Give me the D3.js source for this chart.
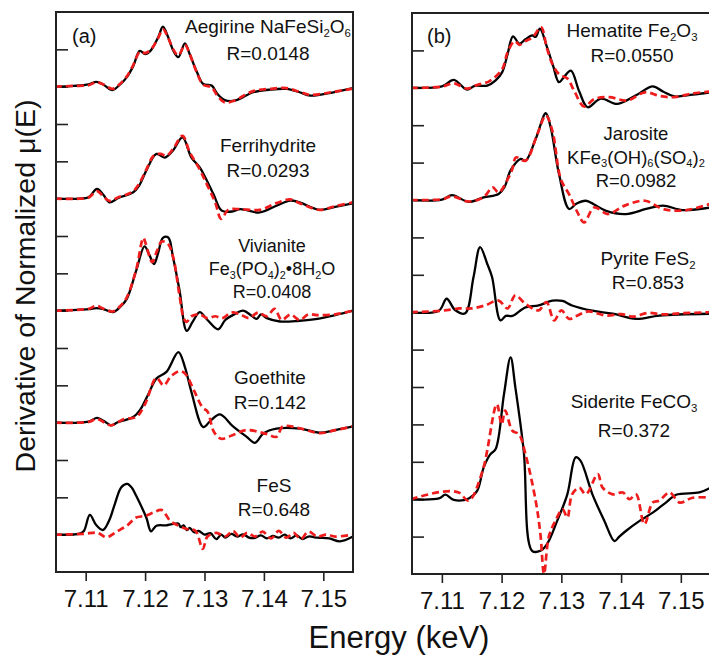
<!DOCTYPE html>
<html><head><meta charset="utf-8">
<script src="https://cdn.jsdelivr.net/npm/d3@7"></script>
<style>body{margin:0;background:#fff}svg{display:block}text{font-family:"Liberation Sans",Arial,Helvetica,sans-serif;fill:#111}</style>
</head><body>
<svg id="chart" width="709" height="657"></svg>
<script>
// ---------- data ----------
const energyTicks = [7.11, 7.12, 7.13, 7.14, 7.15];
const offsetTicks = d3.range(0, 14);

// Panel (a): [energy keV, derivative (offset units)]
const aegirineObs = [[7.1048,0],[7.108,0.02],[7.1105,0.06],[7.1118,0.13],[7.113,0.05],[7.1145,-0.09],[7.1158,0.06],[7.1169,0.25],[7.118,0.55],[7.1191,0.96],[7.12,0.875],[7.1209,0.96],[7.1222,1.32],[7.123,1.61],[7.1239,1.32],[7.1248,0.95],[7.1256,0.79],[7.1267,1.16],[7.1275,0.875],[7.1287,0.4],[7.1298,0.07],[7.1312,0.03],[7.1322,-0.2],[7.1334,-0.36],[7.1351,-0.375],[7.1365,-0.28],[7.1382,-0.15],[7.141,-0.08],[7.1438,-0.06],[7.146,-0.15],[7.1478,-0.24],[7.1517,-0.15],[7.155,-0.04]];
const aegirineFit = [[7.1048,0],[7.108,0.02],[7.1105,0.04],[7.1118,0.12],[7.113,0.06],[7.1145,-0.06],[7.1158,0.08],[7.1169,0.27],[7.118,0.58],[7.1191,0.93],[7.12,0.9],[7.1209,0.98],[7.1222,1.3],[7.123,1.54],[7.1239,1.3],[7.1248,0.98],[7.1256,0.84],[7.1267,1.12],[7.1275,0.88],[7.1287,0.38],[7.1298,0.05],[7.1312,-0.02],[7.1322,-0.25],[7.1334,-0.42],[7.1351,-0.37],[7.1365,-0.25],[7.1382,-0.12],[7.141,-0.06],[7.1438,-0.04],[7.146,-0.14],[7.1478,-0.22],[7.1517,-0.14],[7.155,-0.05]];

const ferrihydriteObs = [[7.1048,0],[7.109,0],[7.1105,0.04],[7.1119,0.26],[7.113,0.1],[7.114,-0.1],[7.1155,0.02],[7.118,0.17],[7.119,0.35],[7.1202,0.75],[7.1219,1.2],[7.1233,1.1],[7.1247,1.29],[7.1263,1.64],[7.1278,1.1],[7.1292,0.84],[7.1315,0.125],[7.1329,-0.32],[7.1348,-0.34],[7.136,-0.28],[7.1393,-0.37],[7.1421,-0.19],[7.1444,-0.05],[7.146,-0.1],[7.1494,-0.3],[7.152,-0.22],[7.155,-0.125]];
const ferrihydriteFit = [[7.1048,0],[7.109,0],[7.1105,0.03],[7.1119,0.2],[7.113,0.06],[7.114,-0.06],[7.1155,0.04],[7.117,0.12],[7.118,0.2],[7.119,0.4],[7.1202,0.78],[7.1215,1.16],[7.1226,1.2],[7.1236,1.15],[7.1247,1.33],[7.1263,1.68],[7.1275,1.25],[7.1292,0.78],[7.1305,0.35],[7.1318,-0.1],[7.1328,-0.54],[7.134,-0.3],[7.136,-0.28],[7.1393,-0.3],[7.1421,-0.12],[7.1444,-0.02],[7.146,-0.12],[7.1494,-0.3],[7.152,-0.2],[7.155,-0.1]];

const vivianiteObs = [[7.1048,0],[7.1105,0.04],[7.1118,0.07],[7.113,0.04],[7.1146,-0.04],[7.1158,0.1],[7.1169,0.31],[7.1185,1.07],[7.1199,1.72],[7.1207,1.5],[7.1215,1.25],[7.1222,1.55],[7.123,1.95],[7.1239,1.96],[7.1247,1.43],[7.1258,0.54],[7.127,-0.54],[7.128,-0.3],[7.1292,-0.04],[7.1305,-0.25],[7.1323,-0.5],[7.1335,-0.25],[7.135,-0.1],[7.1365,0],[7.1378,-0.12],[7.1388,-0.22],[7.1395,-0.1],[7.1405,-0.2],[7.1427,-0.29],[7.146,-0.27],[7.149,-0.22],[7.152,-0.12],[7.155,0]];
const vivianiteFit = [[7.1048,0],[7.1105,0.05],[7.1118,0.13],[7.113,0.05],[7.1146,-0.02],[7.1158,0.12],[7.1169,0.35],[7.1185,1.1],[7.1197,1.95],[7.1201,1.8],[7.1212,1.3],[7.122,1.6],[7.1228,1.85],[7.1238,1.8],[7.1247,1.45],[7.1258,0.4],[7.1265,-0.2],[7.127,-0.3],[7.1278,-0.15],[7.1292,-0.1],[7.1305,-0.2],[7.1318,-0.15],[7.133,-0.2],[7.1345,-0.05],[7.136,-0.1],[7.1375,-0.2],[7.139,-0.05],[7.1405,-0.15],[7.1418,0.05],[7.143,-0.25],[7.1445,-0.1],[7.146,-0.25],[7.1475,-0.1],[7.149,-0.12],[7.152,-0.1],[7.155,0]];

const goethiteObs = [[7.1048,0],[7.1105,0.03],[7.1119,0.13],[7.113,0.05],[7.1143,-0.07],[7.1155,0.02],[7.1169,0.08],[7.118,0.15],[7.1191,0.33],[7.1205,0.75],[7.1219,1.18],[7.1236,1.36],[7.1256,1.89],[7.1267,1.49],[7.1278,0.82],[7.1298,-0.12],[7.131,0.05],[7.1326,0.22],[7.1348,-0.1],[7.1371,-0.38],[7.1385,-0.54],[7.1399,-0.29],[7.1421,-0.16],[7.1461,-0.16],[7.1494,-0.27],[7.152,-0.2],[7.155,-0.1]];
const goethiteFit = [[7.1048,0],[7.1105,0.02],[7.1119,0.1],[7.1142,-0.07],[7.1165,0.1],[7.1185,0.15],[7.12,0.5],[7.1219,1.2],[7.1231,1.0],[7.1244,1.25],[7.1258,1.38],[7.1268,1.3],[7.1282,0.87],[7.1297,0.4],[7.1305,0.3],[7.1316,-0.25],[7.1328,-0.43],[7.1348,-0.33],[7.137,-0.2],[7.1404,-0.3],[7.1421,-0.38],[7.1432,-0.1],[7.146,-0.15],[7.1494,-0.28],[7.152,-0.2],[7.155,-0.1]];

const fesObs = [[7.1048,0],[7.109,0.03],[7.1097,0.1],[7.1107,0.53],[7.1118,0.25],[7.1129,0.125],[7.114,0.4],[7.1149,0.82],[7.116,1.27],[7.117,1.36],[7.1178,1.25],[7.1185,1.04],[7.1202,0.46],[7.121,0.09],[7.1219,0.24],[7.1236,0.25],[7.1245,0.28],[7.1256,0.3],[7.126,0.2],[7.1265,0.25],[7.127,0.12],[7.1275,0.18],[7.1283,0.06],[7.129,0.1],[7.13,0],[7.131,0.04],[7.132,-0.12],[7.1328,0],[7.1335,-0.08],[7.1345,0.02],[7.1355,-0.05],[7.1365,0.01],[7.1375,-0.08],[7.1384,-0.09],[7.1395,-0.02],[7.1405,-0.1],[7.1415,-0.03],[7.1425,-0.08],[7.1435,0],[7.1445,-0.1],[7.1455,-0.02],[7.1465,-0.12],[7.1475,-0.05],[7.149,-0.08],[7.151,-0.1],[7.1528,-0.18],[7.155,-0.05]];
const fesFit = [[7.1048,0],[7.1095,0.02],[7.112,0.05],[7.1135,-0.07],[7.1152,0.08],[7.117,0.25],[7.1185,0.46],[7.12,0.5],[7.1215,0.6],[7.1228,0.66],[7.1242,0.375],[7.1255,0.25],[7.127,0.15],[7.1285,0.1],[7.1297,-0.38],[7.1305,-0.05],[7.132,0.05],[7.1335,-0.05],[7.1348,0.1],[7.136,-0.08],[7.1372,0.05],[7.1385,-0.05],[7.1398,0.08],[7.1412,-0.1],[7.1425,0.1],[7.1438,-0.08],[7.145,0.05],[7.1462,-0.12],[7.1475,0.08],[7.149,-0.05],[7.1505,0],[7.152,-0.05],[7.155,0]];

// Panel (b)
const hematiteObs = [[7.1048,0],[7.11,0.04],[7.112,0.21],[7.1142,-0.05],[7.1155,0.05],[7.1176,0.06],[7.119,0.2],[7.1201,0.42],[7.121,0.9],[7.1219,1.375],[7.123,1.18],[7.124,1.3],[7.1251,1.4],[7.1257,1.36],[7.1264,1.58],[7.1276,1.09],[7.1286,0.6],[7.1296,0.15],[7.1305,0.3],[7.1316,0.46],[7.133,-0.1],[7.1344,-0.52],[7.1366,-0.29],[7.1394,-0.43],[7.1425,-0.2],[7.1453,0.04],[7.147,-0.1],[7.1489,-0.23],[7.152,-0.18],[7.155,-0.12]];
const hematiteFit = [[7.1048,0],[7.11,0.03],[7.112,0.12],[7.1142,-0.02],[7.116,0.08],[7.118,0.18],[7.1201,0.5],[7.121,0.95],[7.1222,1.25],[7.123,1.15],[7.124,1.25],[7.1252,1.35],[7.1266,1.62],[7.1276,1.05],[7.1286,0.6],[7.1297,0.35],[7.131,0.25],[7.1322,-0.1],[7.1338,-0.5],[7.1355,-0.3],[7.138,-0.25],[7.141,-0.34],[7.144,-0.12],[7.1465,-0.22],[7.1489,-0.25],[7.152,-0.15],[7.155,-0.1]];

const jarositeObs = [[7.1048,0],[7.11,0.01],[7.1117,0.13],[7.1145,-0.05],[7.117,0.07],[7.1195,0.16],[7.1205,0.35],[7.1215,0.79],[7.1232,1.1],[7.124,1.05],[7.1257,1.63],[7.1274,2.32],[7.1282,1.95],[7.1296,0.7],[7.1313,-0.24],[7.1325,-0.1],[7.1341,-0.02],[7.1355,-0.12],[7.1375,-0.29],[7.1408,-0.375],[7.1442,-0.24],[7.147,-0.15],[7.1503,-0.27],[7.155,-0.2]];
const jarositeFit = [[7.1048,0],[7.11,0.02],[7.1117,0.1],[7.1145,-0.04],[7.117,0.08],[7.1185,0.34],[7.1195,0.2],[7.121,0.55],[7.1218,0.83],[7.1224,1.14],[7.124,1.05],[7.126,1.77],[7.1274,2.26],[7.1285,1.85],[7.1299,0.56],[7.1313,0.15],[7.1327,-0.33],[7.1338,-0.6],[7.1355,-0.2],[7.1378,-0.375],[7.1406,-0.15],[7.144,-0.02],[7.147,-0.24],[7.1505,-0.28],[7.155,-0.1]];

const pyriteObs = [[7.1048,0],[7.1095,0.04],[7.1108,0.36],[7.1122,0.06],[7.1139,-0.03],[7.1153,0.94],[7.1164,1.74],[7.1176,1.29],[7.1184,0.94],[7.1198,-0.22],[7.1207,-0.1],[7.1218,-0.1],[7.124,0.13],[7.1262,0.18],[7.1285,0.31],[7.1302,0.3],[7.1318,0.18],[7.1352,0.04],[7.1386,-0.04],[7.1425,-0.18],[7.1464,-0.09],[7.155,-0.04]];
const pyriteFit = [[7.1048,0],[7.11,0.04],[7.113,0.1],[7.115,0.1],[7.1172,0.18],[7.1195,0.31],[7.121,0.1],[7.1223,0.45],[7.124,0.22],[7.1262,0.05],[7.1275,0.27],[7.1288,-0.22],[7.13,0.05],[7.1313,-0.18],[7.1325,-0.1],[7.1345,0.02],[7.1375,-0.09],[7.14,-0.05],[7.142,-0.12],[7.1445,-0.02],[7.147,-0.06],[7.15,-0.03],[7.155,0]];

const sideriteObs = [[7.1048,0],[7.1095,0.02],[7.1106,0.12],[7.112,-0.02],[7.1145,0.02],[7.1159,0.22],[7.117,0.85],[7.1181,1.2],[7.119,1.34],[7.1204,2.81],[7.1215,3.79],[7.1223,2.99],[7.1237,1.29],[7.1251,-1.38],[7.1265,-1.38],[7.1276,-1.2],[7.1293,-0.58],[7.131,0.13],[7.1324,1.12],[7.1332,1.03],[7.1352,0.13],[7.1372,-0.58],[7.1389,-1.12],[7.1397,-1.0],[7.1408,-0.85],[7.1431,-0.58],[7.1453,-0.36],[7.1475,-0.09],[7.1492,0.12],[7.1531,0.18],[7.155,0.31]];
const sideriteFit = [[7.1048,0],[7.11,0.2],[7.1128,0.18],[7.1145,-0.04],[7.1168,0.75],[7.1192,2.54],[7.12,2.0],[7.1206,2.37],[7.1218,1.83],[7.1229,1.74],[7.124,1.2],[7.1257,-0.04],[7.1265,-0.94],[7.1271,-2.0],[7.1279,-1.0],[7.129,-0.58],[7.1302,-0.27],[7.131,-0.49],[7.1318,0.13],[7.133,0.31],[7.1341,0.13],[7.1361,0.67],[7.1369,0.31],[7.1386,0.13],[7.1403,0.18],[7.1414,0.0],[7.1425,0.13],[7.1439,-0.67],[7.1453,-0.09],[7.1464,-0.04],[7.1481,0.18],[7.1498,-0.09],[7.152,0.04],[7.155,0.04]];

// vertical offsets of each spectrum
const offsetsA = [12, 9, 6, 3, 0];
const offsetsB = [12, 9, 6, 1];

// labels: strings are normal text, one-element arrays are subscripts
const labelsA = [
  [['Aegirine NaFeSi',['2'],'O',['6']], ['R=0.0148']],
  [['Ferrihydrite'], ['R=0.0293']],
  [['Vivianite'], ['Fe',['3'],'(PO',['4'],')',['2'],'•8H',['2'],'O'], ['R=0.0408']],
  [['Goethite'], ['R=0.142']],
  [['FeS'], ['R=0.648']]
];
const labelsB = [
  [['Hematite Fe',['2'],'O',['3']], ['R=0.0550']],
  [['Jarosite'], ['KFe',['3'],'(OH)',['6'],'(SO',['4'],')',['2']], ['R=0.0982']],
  [['Pyrite FeS',['2']], ['R=0.853']],
  [['Siderite FeCO',['3']], ['R=0.372']]
];

// ---------- layout ----------
const svg = d3.select('#chart');
const panels = [
  {x0:56, x1:353, y0:12, y1:572, tag:'(a)', tagX:72,
   obs:[aegirineObs, ferrihydriteObs, vivianiteObs, goethiteObs, fesObs],
   fit:[aegirineFit, ferrihydriteFit, vivianiteFit, goethiteFit, fesFit],
   offsets:offsetsA, labels:labelsA,
   labelPos:[[268,33,27,19],[268,152,25,19],[272,252,23,18],[270,384,25,19],[274,492,24,19]]},
  {x0:412, x1:710.7, y0:13, y1:574, tag:'(b)', tagX:427,
   obs:[hematiteObs, jarositeObs, pyriteObs, sideriteObs],
   fit:[hematiteFit, jarositeFit, pyriteFit, sideriteFit],
   offsets:offsetsB, labels:labelsB,
   labelPos:[[632,37,25,19],[636,140,23.5,18.5],[648,265,24,19],[634,408,29,19]]}
];

function addLabel(g, cx, y, segs, size) {
  const t = g.append('text').attr('x', cx).attr('y', y)
    .attr('text-anchor', 'middle').style('font-size', size + 'px');
  const shift = size * 0.2;
  let sub = false;
  segs.forEach(s => {
    if (Array.isArray(s)) {
      t.append('tspan').attr('dy', sub ? 0 : shift).style('font-size', (size*0.6)+'px').text(s[0]);
      sub = true;
    } else {
      t.append('tspan').attr('dy', sub ? -shift : 0).text(s);
      sub = false;
    }
  });
}

panels.forEach((p, pi) => {
  const x = d3.scaleLinear().domain([7.105, 7.155]).range([p.x0, p.x1]);
  const y = d3.scaleLinear().domain([-1, 14]).range([p.y1, p.y0]);
  const g = svg.append('g');

  g.append('clipPath').attr('id', 'clip' + pi).append('rect')
    .attr('x', p.x0).attr('y', p.y0).attr('width', p.x1 - p.x0).attr('height', p.y1 - p.y0);

  // left inner ticks
  const yAxis = d3.axisRight(y).tickValues(offsetTicks).tickSize(12).tickFormat('');
  const ya = g.append('g').attr('transform', `translate(${p.x0},0)`).call(yAxis);
  ya.select('.domain').remove();
  ya.selectAll('line').attr('stroke', '#222').attr('stroke-width', 1.6);

  // bottom axis
  const xAxis = d3.axisBottom(x).tickValues(energyTicks).tickSize(9).tickPadding(9).tickFormat(d3.format('.2f'));
  const xa = g.append('g').attr('transform', `translate(0,${p.y1})`).call(xAxis);
  xa.select('.domain').remove();
  xa.selectAll('line').attr('stroke', '#222').attr('stroke-width', 1.6);
  xa.selectAll('text').style('font-size', '24px').attr('fill', '#111')
    .style('font-family', '"Liberation Sans",Arial,sans-serif');

  const line = d3.line().x(d => x(d[0])).curve(d3.curveCatmullRom.alpha(0.5));
  const curves = g.append('g').attr('clip-path', `url(#clip${pi})`);
  p.obs.forEach((s, i) => {
    const off = p.offsets[i];
    curves.append('path').datum(s)
      .attr('d', line.y(d => y(d[1] + off)))
      .attr('fill', 'none').attr('stroke', '#000').attr('stroke-width', 2.3)
      .attr('stroke-linejoin', 'round');
  });
  p.fit.forEach((s, i) => {
    const off = p.offsets[i];
    curves.append('path').datum(s)
      .attr('d', line.y(d => y(d[1] + off)))
      .attr('fill', 'none').attr('stroke', '#ee1c1c').attr('stroke-width', 2.7)
      .attr('stroke-dasharray', '7,4');
  });

  // frame
  g.append('rect').attr('x', p.x0).attr('y', p.y0)
    .attr('width', p.x1 - p.x0).attr('height', p.y1 - p.y0)
    .attr('fill', 'none').attr('stroke', '#222').attr('stroke-width', 2);

  // panel tag
  g.append('text').attr('x', p.tagX).attr('y', 43).style('font-size', '20px').text(p.tag);

  // spectrum labels
  p.labels.forEach((lines, i) => {
    const [cx, y0, dy, fs] = p.labelPos[i];
    lines.forEach((segs, j) => addLabel(g, cx, y0 + j * dy, segs, fs));
  });
});

// axis titles
svg.append('text').attr('transform', 'translate(35,286) rotate(-90)')
  .attr('text-anchor', 'middle').style('font-size', '28.5px')
  .text('Derivative of Normalized μ(E)');
svg.append('text').attr('x', 399).attr('y', 648)
  .attr('text-anchor', 'middle').style('font-size', '31px')
  .text('Energy (keV)');
</script>
</body></html>
